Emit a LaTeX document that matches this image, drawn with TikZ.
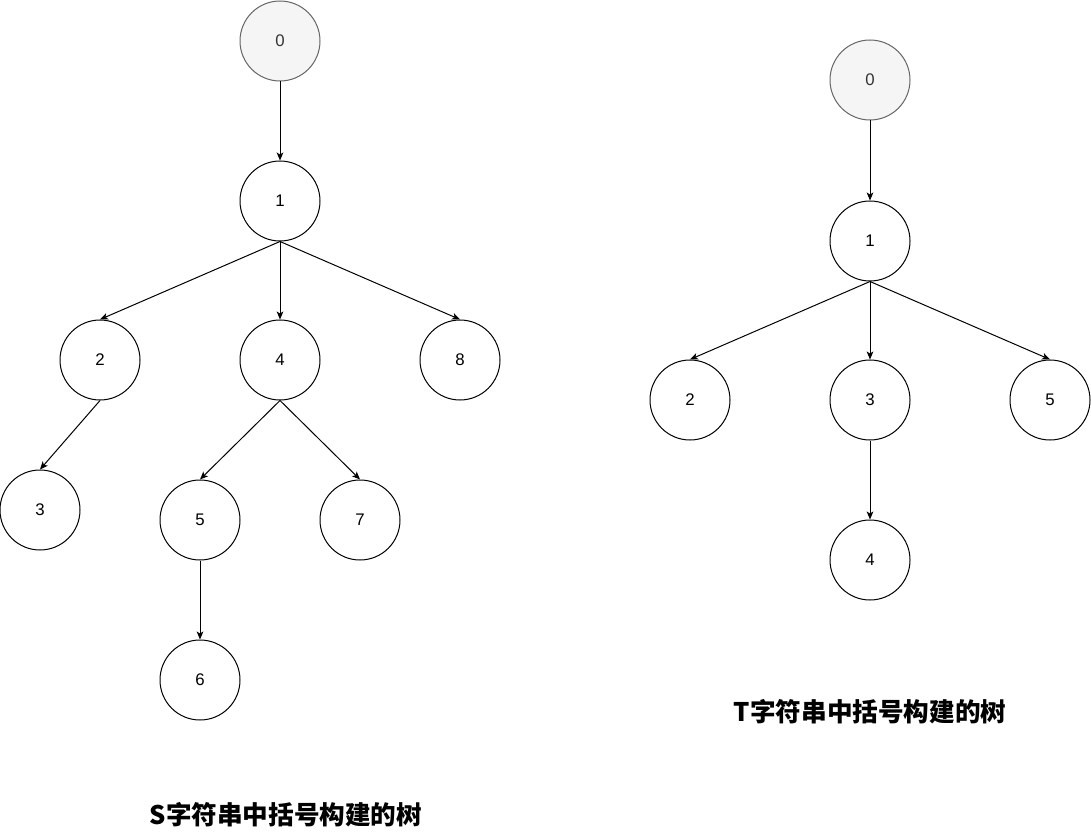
\documentclass[tikz,border=0pt]{standalone}
\usepackage{fontspec}
\setmainfont{Liberation Sans}
\newfontfamily\cjk{Noto Sans CJK SC}
\usetikzlibrary{arrows.meta}
\definecolor{rootfill}{HTML}{F5F5F5}
\definecolor{rootline}{HTML}{666666}
\begin{document}
\begin{tikzpicture}[x=0.75pt, y=-0.75pt,
  every node/.style={font=\fontsize{12.6}{15}\selectfont},
  tnode/.style={draw,circle,line width=0.75pt,minimum size=60pt,inner sep=0pt},
  root/.style={tnode,draw=rootline,fill=rootfill,text=black!80},
  edge/.style={-{Stealth[length=6pt,width=5pt,inset=1.5pt]},line width=0.75pt},
  title/.style={font=\cjk\bfseries\fontsize{19.2}{22}\selectfont}]
\useasboundingbox (0,0) rectangle (1091,837);
% S tree
\node[root] (s0) at (280,41) {0};
\node[tnode] (s1) at (280,201) {1};
\node[tnode] (s2) at (100,360) {2};
\node[tnode] (s4) at (280,360) {4};
\node[tnode] (s8) at (460,360) {8};
\node[tnode] (s3) at (40,510) {3};
\node[tnode] (s5) at (200,520) {5};
\node[tnode] (s7) at (360,520) {7};
\node[tnode] (s6) at (200,680) {6};
\draw[edge] (s0.south) -- (s1.north);
\draw[edge] (s1.south) -- (s2.north);
\draw[edge] (s1.south) -- (s4.north);
\draw[edge] (s1.south) -- (s8.north);
\draw[edge] (s2.south) -- (s3.north);
\draw[edge] (s4.south) -- (s5.north);
\draw[edge] (s4.south) -- (s7.north);
\draw[edge] (s5.south) -- (s6.north);
\node[title] (stitle) at (286,815) {S字符串中括号构建的树};
% T tree
\node[root] (t0) at (870,80) {0};
\node[tnode] (t1) at (870,241) {1};
\node[tnode] (t2) at (690,400) {2};
\node[tnode] (t3) at (870,400) {3};
\node[tnode] (t5) at (1050,400) {5};
\node[tnode] (t4) at (870,560) {4};
\draw[edge] (t0.south) -- (t1.north);
\draw[edge] (t1.south) -- (t2.north);
\draw[edge] (t1.south) -- (t3.north);
\draw[edge] (t1.south) -- (t5.north);
\draw[edge] (t3.south) -- (t4.north);
\node[title] (ttitle) at (870,712) {T字符串中括号构建的树};
\end{tikzpicture}
\end{document}
